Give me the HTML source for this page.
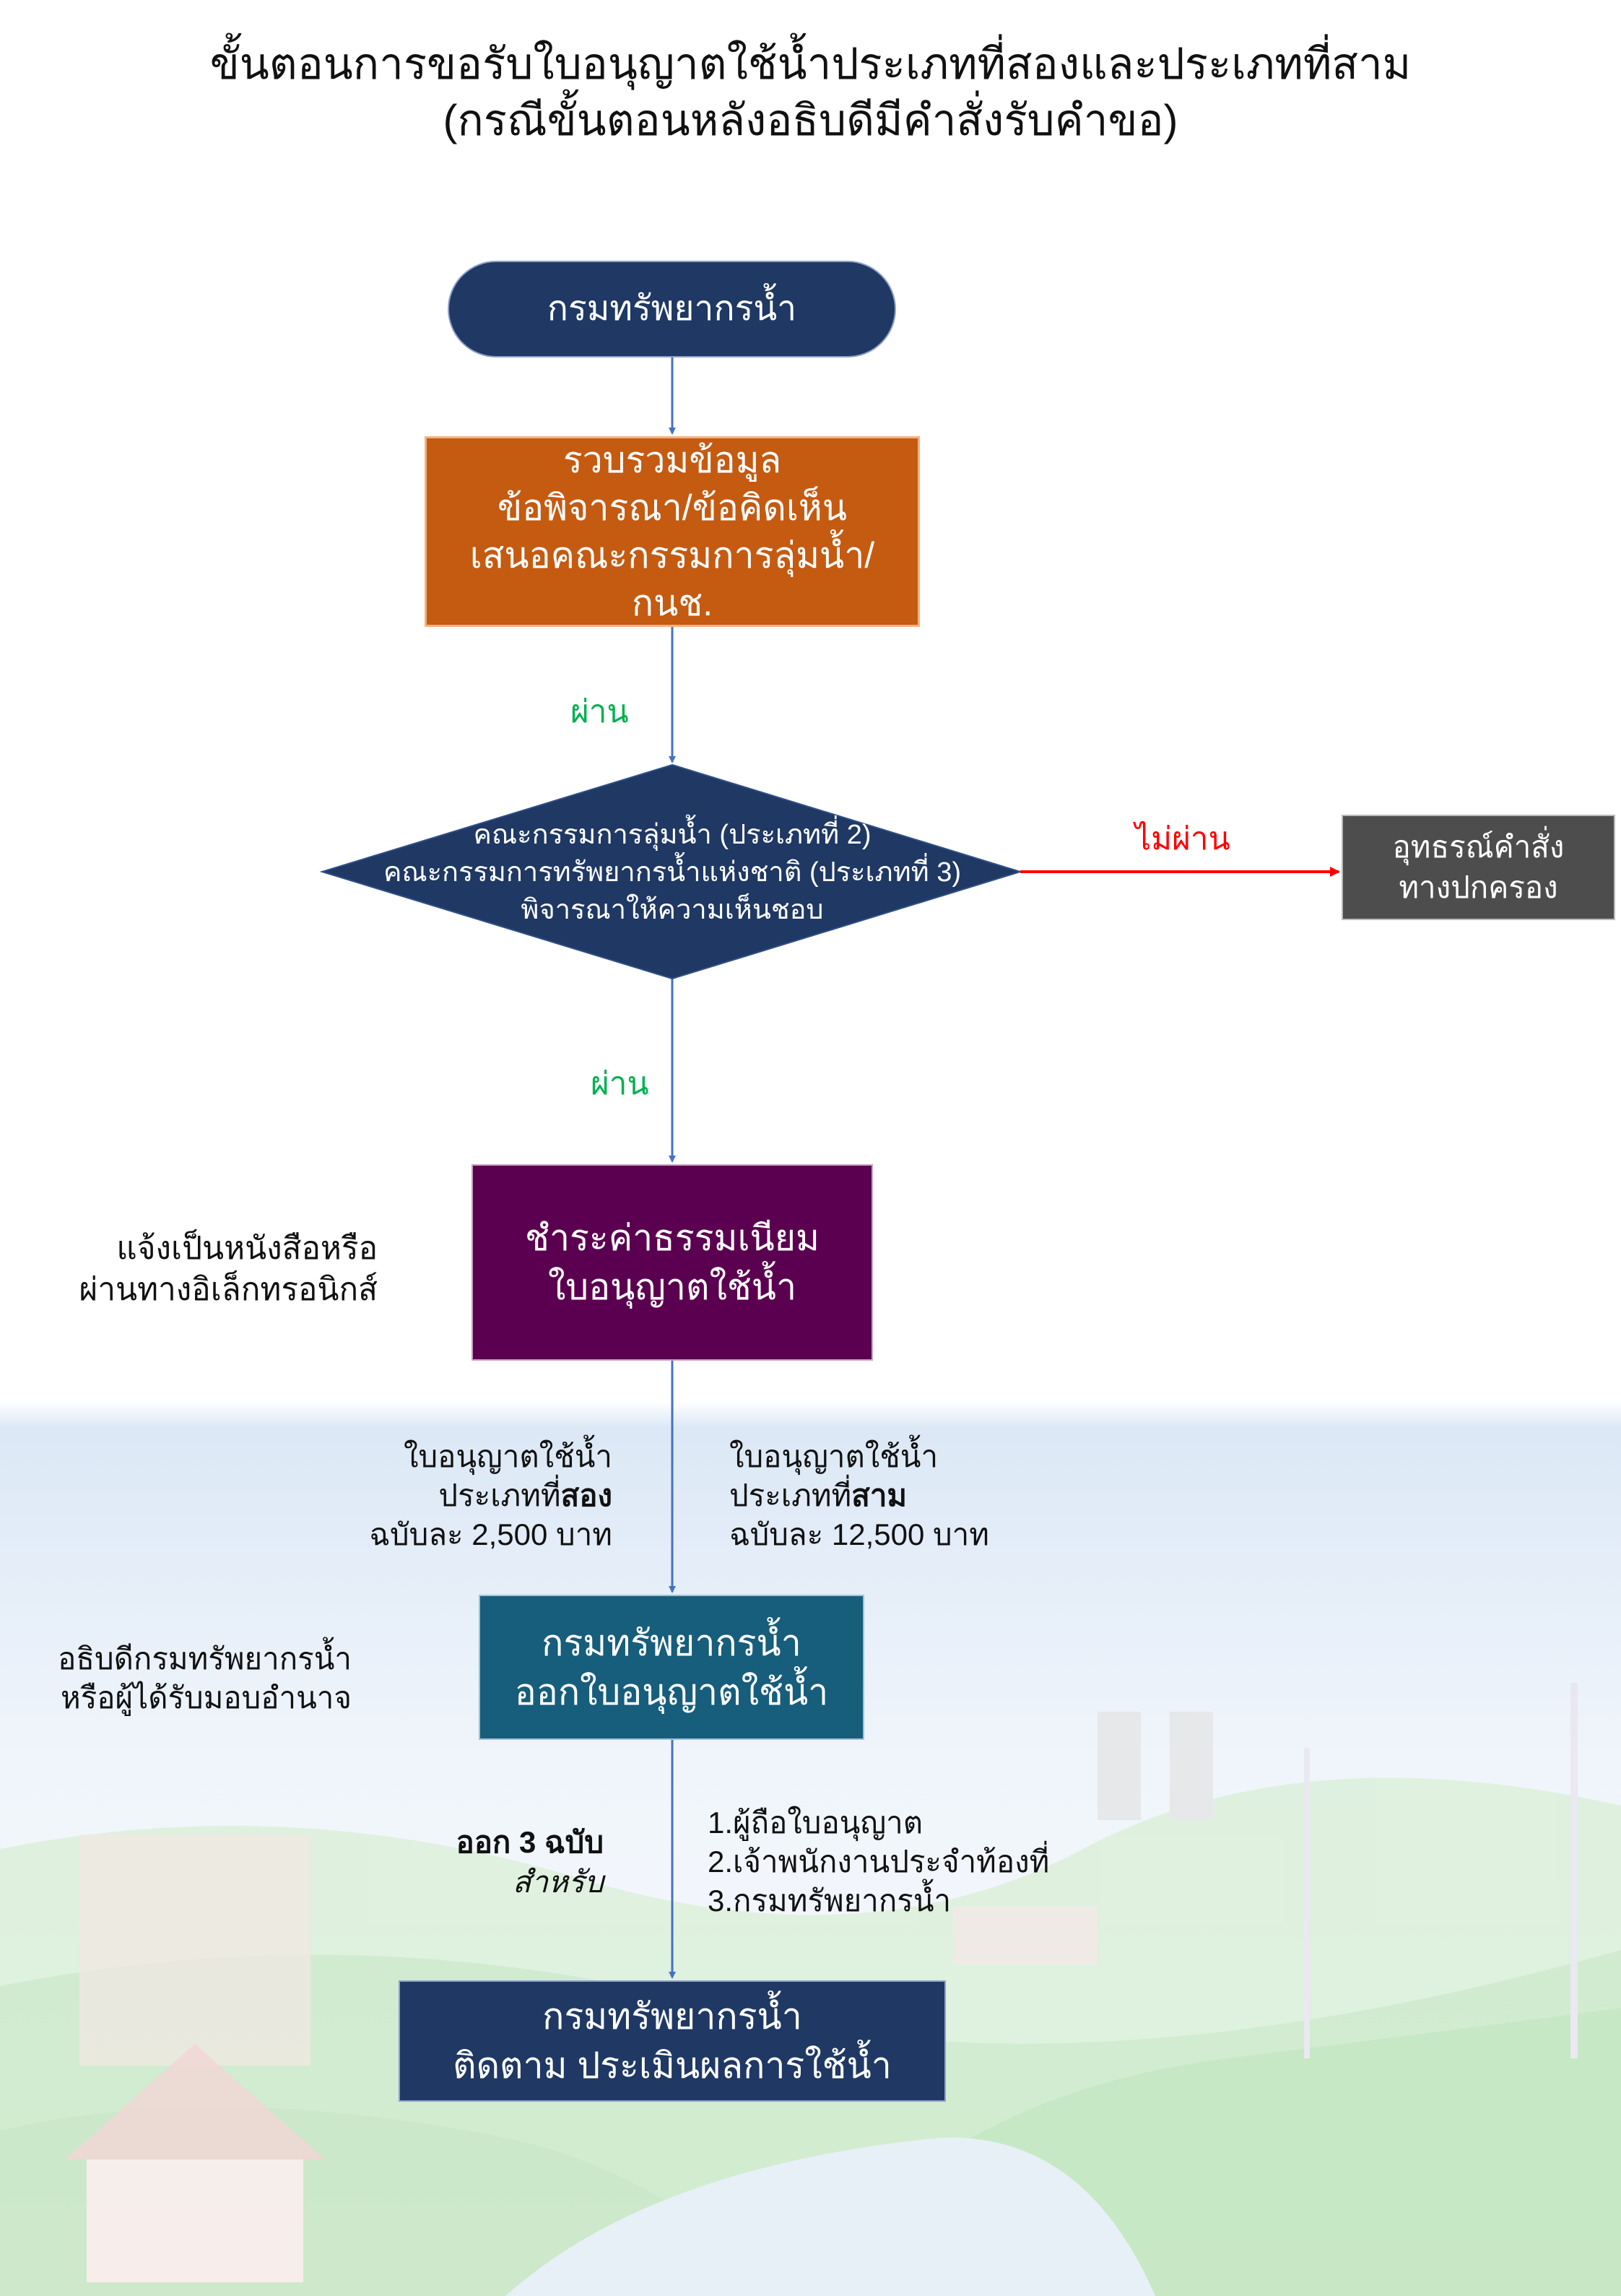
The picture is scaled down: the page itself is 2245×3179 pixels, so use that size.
<!DOCTYPE html>
<html><head><meta charset="utf-8">
<style>
html,body{margin:0;padding:0}
body{width:2245px;height:3179px;position:relative;overflow:hidden;background:#fff;font-family:"Liberation Sans","Noto Sans CJK SC","WenQuanYi Zen Hei",sans-serif}
.t{position:absolute;white-space:nowrap}
.box{position:absolute;display:flex;align-items:center;justify-content:center;text-align:center;color:#fff;line-height:1.3}
</style></head><body>
<svg style="position:absolute;left:0;top:0" width="2245" height="3179">
<defs>
<linearGradient id="sky" x1="0" y1="0" x2="0" y2="1">
<stop offset="0" stop-color="#ffffff"/><stop offset="0.03" stop-color="#dce8f6"/><stop offset="0.4" stop-color="#f0f5fb"/><stop offset="1" stop-color="#f8fafd"/>
</linearGradient>
<marker id="ab" markerWidth="10" markerHeight="10" refX="8" refY="5" orient="auto" markerUnits="userSpaceOnUse"><path d="M0,0 L10,5 L0,10 z" fill="#4472c4"/></marker>
<marker id="ar" markerWidth="14" markerHeight="14" refX="12" refY="7" orient="auto" markerUnits="userSpaceOnUse"><path d="M0,0 L14,7 L0,14 z" fill="#ff0000"/></marker>
</defs>
<rect x="0" y="1940" width="2245" height="1239" fill="url(#sky)"/>
<g opacity="0.75">
<path d="M0,2560 Q400,2480 800,2600 T1500,2560 T2245,2500 L2245,3179 L0,3179z" fill="#d9efd6"/>
<path d="M0,2750 Q500,2650 1000,2780 T2245,2700 L2245,3179 L0,3179z" fill="#c6e8c2"/>
<path d="M1100,3179 Q1300,2900 1700,2850 T2245,2780 L2245,3179z" fill="#b8e3b3"/>
<path d="M0,2950 Q300,2880 700,2960 Q900,3000 1100,3179 L0,3179z" fill="#bfe3bb"/>
<path d="M700,3179 Q900,3000 1300,2960 Q1500,2950 1600,3179z" fill="#e2edf6"/>
<rect x="110" y="2540" width="320" height="320" fill="#f3e2dc" opacity="0.7"/>
<path d="M90,2990 L270,2830 L450,2990z" fill="#f2c9c9" opacity="0.8"/>
<rect x="120" y="2990" width="300" height="170" fill="#f7ebe6"/>
<rect x="1520" y="2370" width="60" height="150" fill="#e4e4e4"/>
<rect x="1620" y="2370" width="60" height="150" fill="#e4e4e4"/>
<rect x="1320" y="2640" width="200" height="80" fill="#f0e6e0"/>
<line x1="1810" y1="2420" x2="1810" y2="2850" stroke="#e8e4ee" stroke-width="8"/>
<line x1="2180" y1="2330" x2="2180" y2="2850" stroke="#e8e4ee" stroke-width="10"/>
</g>
<line x1="931" y1="495" x2="931" y2="600" stroke="#4472c4" stroke-width="3" marker-end="url(#ab)"/>
<line x1="931" y1="868" x2="931" y2="1055" stroke="#4472c4" stroke-width="3" marker-end="url(#ab)"/>
<line x1="931" y1="1355" x2="931" y2="1608" stroke="#4472c4" stroke-width="3" marker-end="url(#ab)"/>
<line x1="931" y1="1884" x2="931" y2="2204" stroke="#4472c4" stroke-width="3" marker-end="url(#ab)"/>
<line x1="931" y1="2409" x2="931" y2="2738" stroke="#4472c4" stroke-width="3" marker-end="url(#ab)"/>
<line x1="1413" y1="1207" x2="1854" y2="1207" stroke="#ff0000" stroke-width="4" marker-end="url(#ar)"/>
<polygon points="931,1059 1413,1207 931,1355 446,1207" fill="#1f3864" stroke="#2f4f86" stroke-width="2"/>
</svg>
<div class="t" style="left:0;width:2245px;text-align:center;top:50px;font-size:60px;line-height:78px;color:#111">ขั้นตอนการขอรับใบอนุญาตใช้น้ำประเภทที่สองและประเภทที่สาม<br>(กรณีขั้นตอนหลังอธิบดีมีคำสั่งรับคำขอ)</div>
<div class="box" style="left:620px;top:361px;width:621px;height:134px;border-radius:67px;background:#1f3864;border:2px solid #8ea0c8;box-sizing:border-box;font-size:48px">กรมทรัพยากรน้ำ</div>
<div class="box" style="left:588px;top:604px;width:686px;height:264px;background:#c55a11;border:3px solid #f4b183;box-sizing:border-box;font-size:50px;line-height:66px">รวบรวมข้อมูล<br>ข้อพิจารณา/ข้อคิดเห็น<br>เสนอคณะกรรมการลุ่มน้ำ/<br>กนช.</div>
<div class="t" style="left:790px;top:950px;font-size:44px;color:#00b050">ผ่าน</div>
<div class="box" style="left:446px;top:1120px;width:970px;height:175px;font-size:38px;line-height:52px">คณะกรรมการลุ่มน้ำ (ประเภทที่ 2)<br>คณะกรรมการทรัพยากรน้ำแห่งชาติ (ประเภทที่ 3)<br>พิจารณาให้ความเห็นชอบ</div>
<div class="t" style="left:1572px;top:1126px;font-size:44px;color:#ff0000">ไม่ผ่าน</div>
<div class="box" style="left:1858px;top:1128px;width:379px;height:146px;background:#4d4d4d;border:2px solid #bbb;box-sizing:border-box;font-size:42px;line-height:56px">อุทธรณ์คำสั่ง<br>ทางปกครอง</div>
<div class="t" style="left:818px;top:1465px;font-size:44px;color:#00b050">ผ่าน</div>
<div class="box" style="left:653px;top:1612px;width:556px;height:272px;background:#5b0050;border:2px solid #c9a0c0;box-sizing:border-box;font-size:50px;line-height:68px">ชำระค่าธรรมเนียม<br>ใบอนุญาตใช้น้ำ</div>
<div class="t" style="right:1722px;top:1700px;font-size:44px;line-height:57px;text-align:right;color:#111">แจ้งเป็นหนังสือหรือ<br>ผ่านทางอิเล็กทรอนิกส์</div>
<div class="t" style="right:1397px;top:1990px;font-size:42px;line-height:54px;text-align:right;color:#111">ใบอนุญาตใช้น้ำ<br>ประเภทที่<b>สอง</b><br>ฉบับละ 2,500 บาท</div>
<div class="t" style="left:1010px;top:1990px;font-size:42px;line-height:54px;color:#111">ใบอนุญาตใช้น้ำ<br>ประเภทที่<b>สาม</b><br>ฉบับละ 12,500 บาท</div>
<div class="box" style="left:663px;top:2208px;width:534px;height:201px;background:#175d7c;border:2px solid #9cc3d6;box-sizing:border-box;font-size:50px;line-height:68px">กรมทรัพยากรน้ำ<br>ออกใบอนุญาตใช้น้ำ</div>
<div class="t" style="right:1758px;top:2270px;font-size:42px;line-height:54px;text-align:right;color:#111">อธิบดีกรมทรัพยากรน้ำ<br>หรือผู้ได้รับมอบอำนาจ</div>
<div class="t" style="right:1409px;top:2523px;font-size:42px;line-height:55px;text-align:right;color:#111"><b>ออก 3 ฉบับ</b><br><i>สำหรับ</i></div>
<div class="t" style="left:980px;top:2497px;font-size:42px;line-height:54px;color:#111">1.ผู้ถือใบอนุญาต<br>2.เจ้าพนักงานประจำท้องที่<br>3.กรมทรัพยากรน้ำ</div>
<div class="box" style="left:552px;top:2742px;width:758px;height:168px;background:#1f3864;border:2px solid #8ea0c8;box-sizing:border-box;font-size:50px;line-height:68px">กรมทรัพยากรน้ำ<br>ติดตาม ประเมินผลการใช้น้ำ</div>
</body></html>
